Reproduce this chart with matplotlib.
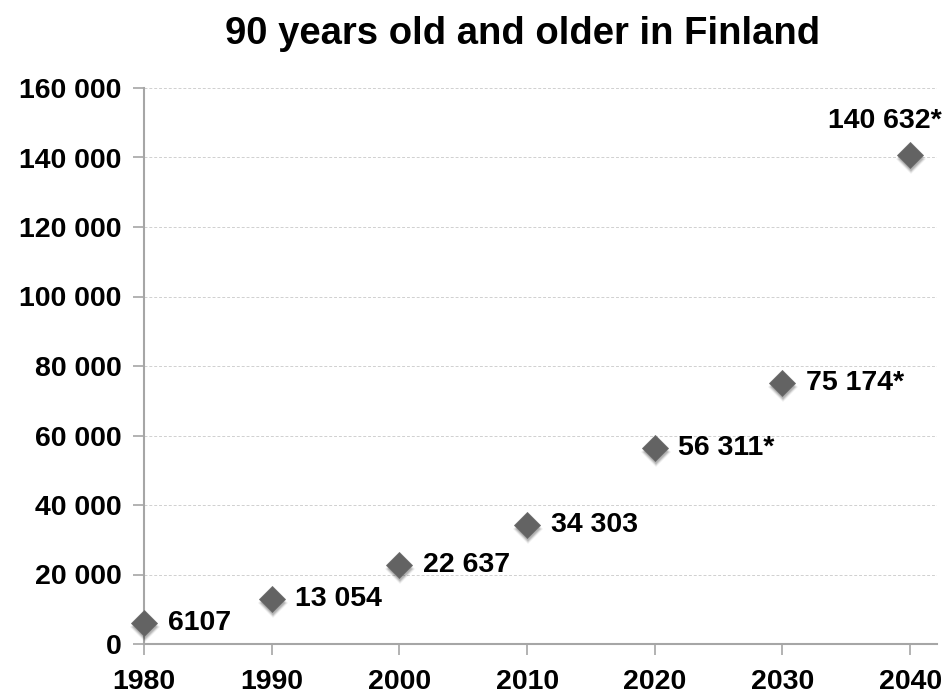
import matplotlib
matplotlib.use("Agg")
import matplotlib.pyplot as plt
from matplotlib.ticker import FuncFormatter
from matplotlib.transforms import ScaledTranslation

years = [1980, 1990, 2000, 2010, 2020, 2030, 2040]
people = [6107, 13054, 22637, 34303, 56311, 75174, 140632]
labels = ["6107", "13 054", "22 637", "34 303", "56 311*", "75 174*", "140 632*"]
y_ticks = [0, 20000, 40000, 60000, 80000, 100000, 120000, 140000, 160000]

plt.rcParams["font.family"] = ["Liberation Sans", "DejaVu Sans"]
plt.rcParams["font.weight"] = "bold"

fig = plt.figure(figsize=(9.46, 6.95), dpi=100)
ax = fig.add_axes([144 / 946, 51 / 695, (937 - 144) / 946, (644 - 88) / 695])

ax.set_xlim(1980, 2042.1)
ax.set_ylim(0, 160000)
ax.set_xticks(years)
ax.set_yticks(y_ticks)
ax.yaxis.set_major_formatter(
    FuncFormatter(lambda v, _: "0" if v == 0 else f"{int(v):,}".replace(",", " "))
)

ax.grid(axis="y", color="#d0d0d0", linestyle=(0, (3, 2)), linewidth=0.7)
ax.set_axisbelow(True)
for side in ("top", "right"):
    ax.spines[side].set_visible(False)
for side in ("left", "bottom"):
    ax.spines[side].set_color("#a6a6a6")
    ax.spines[side].set_linewidth(1.5)
ax.tick_params(axis="both", colors="#a6a6a6", length=8, width=1.2,
               labelcolor="black", labelsize=20.5)
ax.tick_params(axis="x", pad=10)
ax.tick_params(axis="y", pad=8)
for t in ax.get_xticklabels() + ax.get_yticklabels():
    t.set_fontweight("bold")

# soft drop shadow under the diamonds
for k, a in enumerate([0.05, 0.07, 0.09, 0.11]):
    ax.plot(years, people, linestyle="none", marker="D",
            markersize=15 - k * 0.9, color="black", alpha=a,
            markeredgewidth=0, clip_on=False, zorder=3,
            transform=ax.transData + ScaledTranslation(
                1 / 100, -4 / 100, fig.dpi_scale_trans))
ax.plot(years, people, linestyle="none", marker="D", markersize=13.5,
        color="#636363", markeredgecolor="#6e6e6e", markeredgewidth=0.6,
        clip_on=False, zorder=4)

for x, y, s in zip(years, people, labels):
    if x == 2040:
        ax.annotate(s, (x, y), xytext=(-18, 19.5), textcoords="offset points",
                    ha="center", va="baseline", fontsize=20.5, fontweight="bold",
                    annotation_clip=False)
    else:
        ax.annotate(s, (x, y), xytext=(17, 0), textcoords="offset points",
                    ha="left", va="center", fontsize=20.5, fontweight="bold",
                    annotation_clip=False)

fig.text(523 / 946, 1 - 44 / 695, "90 years old and older in Finland",
         ha="center", va="baseline", fontsize=27.5, fontweight="bold")

fig.savefig("out.png", dpi=100)
